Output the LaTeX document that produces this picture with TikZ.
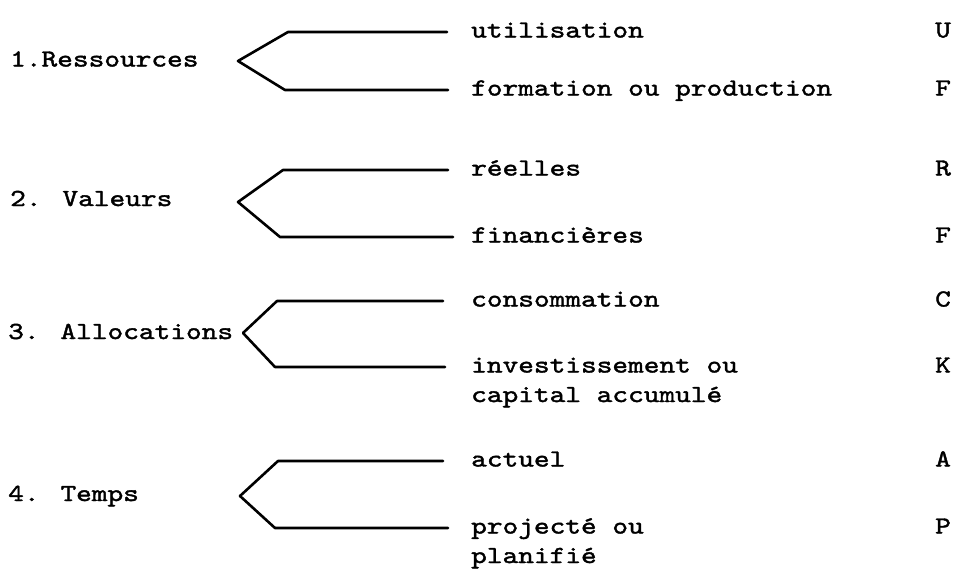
\documentclass[tikz,border=0pt]{standalone}
\usepackage{fontspec}
\newfontfamily\tw{lmmono10-regular.otf}[FakeStretch=1.22,FakeBold=1.6]
\begin{document}
\begin{tikzpicture}[x=1pt,y=-1pt,
  txt/.style={anchor=base west,inner sep=0pt,font=\tw\fontsize{24.5}{30}\selectfont},
  brk/.style={line width=2.6pt,line join=round,line cap=round}]
\useasboundingbox (0,0) rectangle (955,570);
% group 1
\node[txt] (l1) at (10,66.5) {1.Ressources};
\coordinate (t1) at (238,61);
\coordinate (u1) at (288,32); \coordinate (ue1) at (447,32);
\coordinate (d1) at (285,90); \coordinate (de1) at (448,90);
\draw[brk] (ue1) -- (u1) -- (t1) -- (d1) -- (de1);
\node[txt] (a1) at (471,37.5) {utilisation};
\node[txt] (b1) at (471,95.5) {formation ou production};
\node[txt] (r1) at (935,37.5) {U};
\node[txt] (r2) at (935,95.5) {F};
% group 2
\node[txt] (l2) at (10,206) {2. Valeurs};
\coordinate (t2) at (238,202);
\coordinate (u2) at (283,170); \coordinate (ue2) at (448,170);
\coordinate (d2) at (280,237); \coordinate (de2) at (453,237);
\draw[brk] (ue2) -- (u2) -- (t2) -- (d2) -- (de2);
\node[txt] (a2) at (471,175.5) {réelles};
\node[txt] (b2) at (471,242.5) {financières};
\node[txt] (r3) at (935,175.5) {R};
\node[txt] (r4) at (935,242.5) {F};
% group 3
\node[txt] (l3) at (8,339) {3. Allocations};
\coordinate (t3) at (243,333);
\coordinate (u3) at (277,301); \coordinate (ue3) at (443,301);
\coordinate (d3) at (275,367); \coordinate (de3) at (445,367);
\draw[brk] (ue3) -- (u3) -- (t3) -- (d3) -- (de3);
\node[txt] (a3) at (471,306.5) {consommation};
\node[txt] (b3) at (471,372.5) {investissement ou};
\node[txt] (c3) at (471,402) {capital accumulé};
\node[txt] (r5) at (935,306.5) {C};
\node[txt] (r6) at (935,372.5) {K};
% group 4
\node[txt] (l4) at (8,501) {4. Temps};
\coordinate (t4) at (240,496);
\coordinate (u4) at (278,461); \coordinate (ue4) at (443,461);
\coordinate (d4) at (275,528); \coordinate (de4) at (448,528);
\draw[brk] (ue4) -- (u4) -- (t4) -- (d4) -- (de4);
\node[txt] (a4) at (471,466.5) {actuel};
\node[txt] (b4) at (471,533.5) {projecté ou};
\node[txt] (c4) at (471,563) {planifié};
\node[txt] (r7) at (935,466.5) {A};
\node[txt] (r8) at (935,533.5) {P};
\end{tikzpicture}
\end{document}
